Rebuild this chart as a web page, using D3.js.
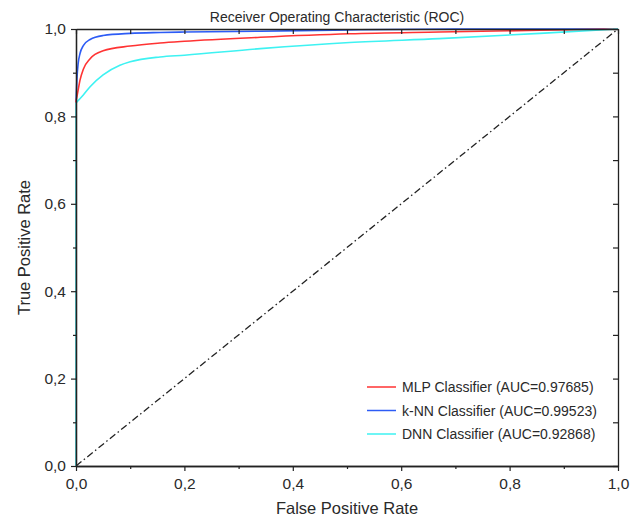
<!DOCTYPE html>
<html>
<head>
<meta charset="utf-8">
<script src="https://cdn.jsdelivr.net/npm/d3@7"></script>
<style>
  body { margin: 0; background: #fff; }
  text { font-family: "Liberation Sans", Arial, sans-serif; fill: #2a2a2a; }
</style>
</head>
<body>
<svg id="chart" width="641" height="520"></svg>
<script>
// data
var seriesNames = ["MLP Classifier (AUC=0.97685)", "k-NN Classifier (AUC=0.99523)", "DNN Classifier (AUC=0.92868)"];
var seriesColors = ["#ff3333", "#2d5cf5", "#3ef2f2"];
var mlpFpr = [0, 0, 0.002, 0.0074, 0.0135, 0.026, 0.05, 0.1, 0.155, 0.2, 0.34, 0.505, 0.67, 0.856, 1.0];
var mlpTpr = [0, 0.835, 0.847, 0.883, 0.908, 0.932, 0.950, 0.961, 0.968, 0.972, 0.981, 0.989, 0.993, 0.997, 1.0];
var knnFpr = [0, 0, 0.002, 0.004, 0.0074, 0.0135, 0.026, 0.05, 0.1, 0.155, 0.2, 0.34, 0.505, 0.7, 1.0];
var knnTpr = [0, 0.83, 0.891, 0.921, 0.944, 0.962, 0.976, 0.985, 0.990, 0.992, 0.993, 0.995, 0.998, 1.0, 1.0];
var dnnFpr = [0, 0, 0.0135, 0.026, 0.05, 0.081, 0.1, 0.155, 0.2, 0.34, 0.505, 0.67, 0.856, 1.0];
var dnnTpr = [0, 0.831, 0.849, 0.868, 0.895, 0.917, 0.925, 0.936, 0.940, 0.955, 0.969, 0.978, 0.990, 1.0];
var chanceLine = [0, 1];
var tickValues = [0, 0.2, 0.4, 0.6, 0.8, 1.0];
var minorTicks = [0.1, 0.3, 0.5, 0.7, 0.9];

var margin = { left: 76, top: 29, right: 23, bottom: 54 };
var width = 641 - margin.left - margin.right;
var height = 520 - margin.top - margin.bottom;

var svg = d3.select("#chart");
var g = svg.append("g")
  .attr("transform", "translate(" + margin.left + "," + margin.top + ")");

var xScale = d3.scaleLinear().domain([0, 1]).range([0, width]);
var yScale = d3.scaleLinear().domain([0, 1]).range([height, 0]);
var fmt = function (d) { return d3.format(".1f")(d).replace(".", ","); };

// chance diagonal
g.append("path")
  .datum(chanceLine)
  .attr("d", d3.line().x(function (d) { return xScale(d); }).y(function (d) { return yScale(d); }))
  .attr("fill", "none")
  .attr("stroke", "#222")
  .attr("stroke-width", 1.3)
  .attr("stroke-dasharray", "7,3,1.5,3");

var curves = [
  { fpr: knnFpr, tpr: knnTpr, color: seriesColors[1] },
  { fpr: mlpFpr, tpr: mlpTpr, color: seriesColors[0] },
  { fpr: dnnFpr, tpr: dnnTpr, color: seriesColors[2] }
];

var straight = d3.line()
  .x(function (d) { return xScale(d[0]); })
  .y(function (d) { return yScale(d[1]); });
var line = d3.line()
  .x(function (d) { return xScale(d[0]); })
  .y(function (d) { return yScale(d[1]); })
  .curve(d3.curveMonotoneX);

curves.forEach(function (c) {
  var pts = c.fpr.map(function (f, i) { return [f, c.tpr[i]]; });
  // vertical start along the y axis, then the smooth part
  g.append("path")
    .datum(pts.slice(0, 2))
    .attr("d", straight)
    .attr("fill", "none")
    .attr("stroke", c.color)
    .attr("stroke-width", 1.6);
  g.append("path")
    .datum(pts.slice(1))
    .attr("d", line)
    .attr("fill", "none")
    .attr("stroke", c.color)
    .attr("stroke-width", 1.6);
});

// axes
function styleAxis(sel) {
  sel.select(".domain").attr("stroke", "#222").attr("stroke-width", 1.3);
  sel.selectAll(".tick line").attr("stroke", "#222").attr("stroke-width", 1.2);
  sel.selectAll("text").style("font-size", "15.5px").attr("fill", "#333");
}

var xAxis = g.append("g").attr("transform", "translate(0," + height + ")")
  .call(d3.axisBottom(xScale).tickValues(tickValues).tickFormat(fmt).tickSize(5).tickSizeOuter(0).tickPadding(7));
styleAxis(xAxis);
g.append("g").attr("transform", "translate(0," + height + ")")
  .call(d3.axisBottom(xScale).tickValues(minorTicks).tickFormat("").tickSize(3).tickSizeOuter(0))
  .call(styleAxis);

var yAxis = g.append("g")
  .call(d3.axisLeft(yScale).tickValues(tickValues).tickFormat(fmt).tickSize(5).tickSizeOuter(0).tickPadding(5));
styleAxis(yAxis);
g.append("g")
  .call(d3.axisLeft(yScale).tickValues(minorTicks).tickFormat("").tickSize(3).tickSizeOuter(0))
  .call(styleAxis);

// top and right with inward ticks
g.append("g")
  .call(d3.axisTop(xScale).tickValues(tickValues.concat(minorTicks)).tickFormat("").tickSize(-5).tickSizeOuter(0))
  .call(styleAxis);
g.append("g").attr("transform", "translate(" + width + ",0)")
  .call(d3.axisRight(yScale).tickValues(tickValues.concat(minorTicks)).tickFormat("").tickSize(-5).tickSizeOuter(0))
  .call(styleAxis);

// titles
svg.append("text")
  .attr("x", 337).attr("y", 22)
  .attr("text-anchor", "middle")
  .style("font-size", "14px")
  .text("Receiver Operating Characteristic (ROC)");

svg.append("text")
  .attr("x", margin.left + width / 2).attr("y", 514)
  .attr("text-anchor", "middle")
  .style("font-size", "16.5px")
  .attr("fill", "#333")
  .text("False Positive Rate");

svg.append("text")
  .attr("transform", "translate(30," + (margin.top + height / 2) + ") rotate(-90)")
  .attr("text-anchor", "middle")
  .style("font-size", "16.5px")
  .attr("fill", "#333")
  .text("True Positive Rate");

// legend
var legend = svg.append("g").attr("transform", "translate(367,387)");
seriesNames.forEach(function (name, i) {
  var row = legend.append("g").attr("transform", "translate(0," + i * 23.5 + ")");
  row.append("line")
    .attr("x1", 0).attr("x2", 29).attr("y1", 0).attr("y2", 0)
    .attr("stroke", seriesColors[i])
    .attr("stroke-width", 1.5);
  row.append("text")
    .attr("x", 35).attr("y", 5)
    .style("font-size", "14px")
    .text(name);
});
</script>
</body>
</html>
